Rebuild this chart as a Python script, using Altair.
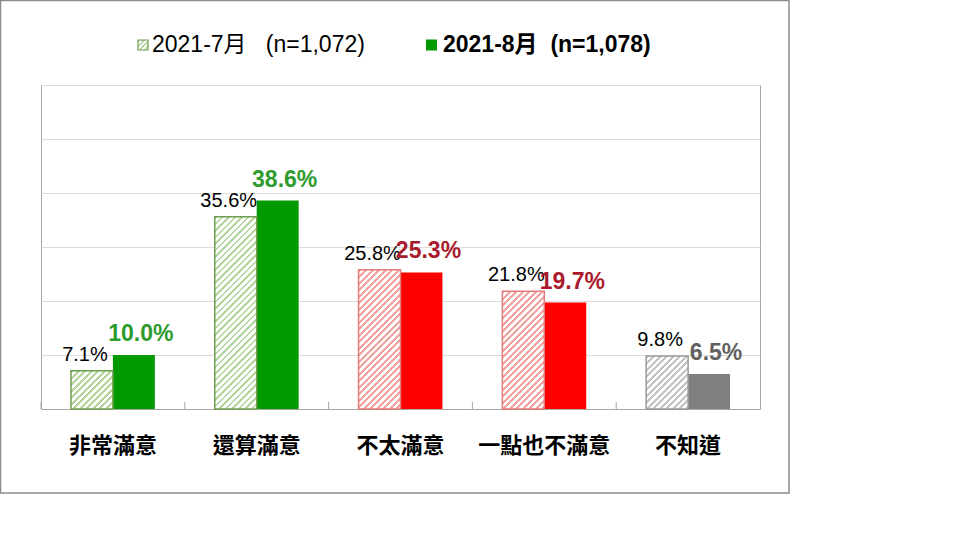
import altair as alt
import pandas as pd

# ---------------- data ----------------
categories = ["非常滿意", "還算滿意", "不太滿意", "一點也不滿意", "不知道"]
series = ["2021-7月", "2021-8月"]
jul_values = [7.1, 35.6, 25.8, 21.8, 9.8]
aug_values = [10.0, 38.6, 25.3, 19.7, 6.5]
legend_labels = ["2021-7月\u00a0\u00a0\u00a0(n=1,072)", "2021-8月\u00a0\u00a0(n=1,078)"]

# ---------------- styles ----------------
solid_colors = ["#009900", "#009900", "#FF0000", "#FF0000", "#808080"]
hatch_colors = ["#B4D59C", "#B4D59C", "#F4A3A3", "#F4A3A3", "#C4C4C4"]
hatch_borders = ["#6F9E52", "#6F9E52", "#E57A7A", "#E57A7A", "#9A9A9A"]
aug_label_colors = ["#2E9B2E", "#2E9B2E", "#A91B2C", "#A91B2C", "#626262"]

W, H = 719, 324
YMAX = 60
PAD_OUT = 0.714
band = W / len(categories)
bar_w = band / (2 + 2 * PAD_OUT)
NUM_FONT = "Liberation Sans, Arial, Noto Sans CJK TC"
CJK_FONT = "Noto Sans CJK TC"


def hatch(color, w, h, period=6.5, frac=0.45):
    L = w + h
    c = L / (w * w + h * h)
    stops = []
    pos = 0.0
    while pos < L:
        a = pos / L
        b = min((pos + period * frac) / L, 1.0)
        stops += [
            alt.GradientStop(offset=a, color="white"),
            alt.GradientStop(offset=a, color=color),
            alt.GradientStop(offset=b, color=color),
            alt.GradientStop(offset=b, color="white"),
        ]
        pos += period
    stops.append(alt.GradientStop(offset=1.0, color="white"))
    return alt.LinearGradient(gradient="linear", stops=stops, x1=0, y1=0, x2=c * w, y2=c * h)


df = pd.DataFrame({
    "cat": categories * 2,
    "series": [series[0]] * 5 + [series[1]] * 5,
    "value": jul_values + aug_values,
    "fillc": solid_colors * 2,
    "labc": ["#000000"] * 5 + aug_label_colors,
})
df["label"] = [f"{v:.1f}%" for v in df["value"]]

x_scale = alt.Scale(domain=categories, paddingInner=0, paddingOuter=0)
x_axis = alt.Axis(title=None, labelFont=CJK_FONT, labelFontSize=22, labelFontWeight="bold",
                  labelColor="#000000", labelPadding=26, ticks=False, domainColor="#A6A6A6",
                  domainWidth=1, labelAngle=0)
xo_scale = alt.Scale(domain=series, paddingInner=0, paddingOuter=PAD_OUT)
y_scale = alt.Scale(domain=[0, YMAX], nice=False)
y_axis = alt.Axis(title=None, labels=False, ticks=False, domain=False, grid=True,
                  values=[0, 10, 20, 30, 40, 50, 60], gridColor="#DCDCDC", gridWidth=1)

X = alt.X("cat:N", scale=x_scale, axis=x_axis, sort=categories)
XO = alt.XOffset("series:N", scale=xo_scale, sort=series)
Y = alt.Y("value:Q", scale=y_scale, axis=y_axis)

layers = []

# solid bars (2021-8月)
solid = alt.Chart(df[df["series"] == series[1]]).mark_bar().encode(
    x=X, xOffset=XO, y=Y, fill=alt.Fill("fillc:N", scale=None)
)
layers.append(solid)

# hatched bars (2021-7月), one layer per bar so each gets its own pattern
for i, cat in enumerate(categories):
    h = jul_values[i] * H / YMAX
    sub = df[(df["series"] == series[0]) & (df["cat"] == cat)]
    layers.append(
        alt.Chart(sub).mark_bar(fill=hatch(hatch_colors[i], bar_w, h),
                                stroke=hatch_borders[i], strokeWidth=1.5).encode(
            x=X, xOffset=XO, y=Y)
    )

# labels
lab7 = alt.Chart(df[df["series"] == series[0]]).mark_text(
    font=NUM_FONT, fontSize=20, baseline="bottom", dy=-6, dx=-7
).encode(x=X, xOffset=XO, y=Y, text="label:N", color=alt.Color("labc:N", scale=None))
lab8 = alt.Chart(df[df["series"] == series[1]]).mark_text(
    font=NUM_FONT, fontSize=23, fontWeight="bold", baseline="bottom", dy=-9, dx=7
).encode(x=X, xOffset=XO, y=Y, text="label:N", color=alt.Color("labc:N", scale=None))
layers += [lab7, lab8]

# small inward ticks at category boundaries
tick_df = pd.DataFrame({"cat": categories})
ticks = alt.Chart(tick_df).mark_rule(color="#A6A6A6", strokeWidth=1).encode(
    x=alt.X("cat:N", scale=x_scale, axis=x_axis, sort=categories, bandPosition=0),
    y=alt.datum(0), y2=alt.datum(1.3)
)
layers.append(ticks)

one = pd.DataFrame({"a": [0]})

# outer frame
frame = alt.Chart(one).mark_rect(fill="white", fillOpacity=0, stroke="#8C8C8C", strokeWidth=1.5).encode(
    x=alt.value(-40.5), x2=alt.value(748), y=alt.value(-84.5), y2=alt.value(408)
)
layers.append(frame)

# legend
leg_icon1 = alt.Chart(one).mark_rect(fill=hatch(hatch_colors[0], 10, 10, period=5),
                                     stroke=hatch_borders[0], strokeWidth=1.2).encode(
    x=alt.value(97), x2=alt.value(107), y=alt.value(-45), y2=alt.value(-35)
)
leg_icon2 = alt.Chart(one).mark_rect(fill=solid_colors[0]).encode(
    x=alt.value(385), x2=alt.value(396), y=alt.value(-45.5), y2=alt.value(-34.5)
)
leg_text1 = alt.Chart(one).mark_text(text=legend_labels[0], font=NUM_FONT, fontSize=23,
                                     align="left", baseline="middle", color="#000000").encode(
    x=alt.value(111), y=alt.value(-40)
)
leg_text2 = alt.Chart(one).mark_text(text=legend_labels[1], font=NUM_FONT, fontSize=23,
                                     fontWeight="bold", align="left", baseline="middle",
                                     color="#000000").encode(
    x=alt.value(402), y=alt.value(-40)
)
layers += [leg_icon1, leg_icon2, leg_text1, leg_text2]

chart = alt.layer(*layers).properties(
    width=W, height=H,
    padding={"left": 41, "top": 85, "right": 200, "bottom": 131},
    autosize=alt.AutoSizeParams(type="none"),
    background="white",
).configure_view(stroke="#A6A6A6", strokeWidth=1)

chart.save("out.html", embed_options={"renderer": "svg", "actions": False})
